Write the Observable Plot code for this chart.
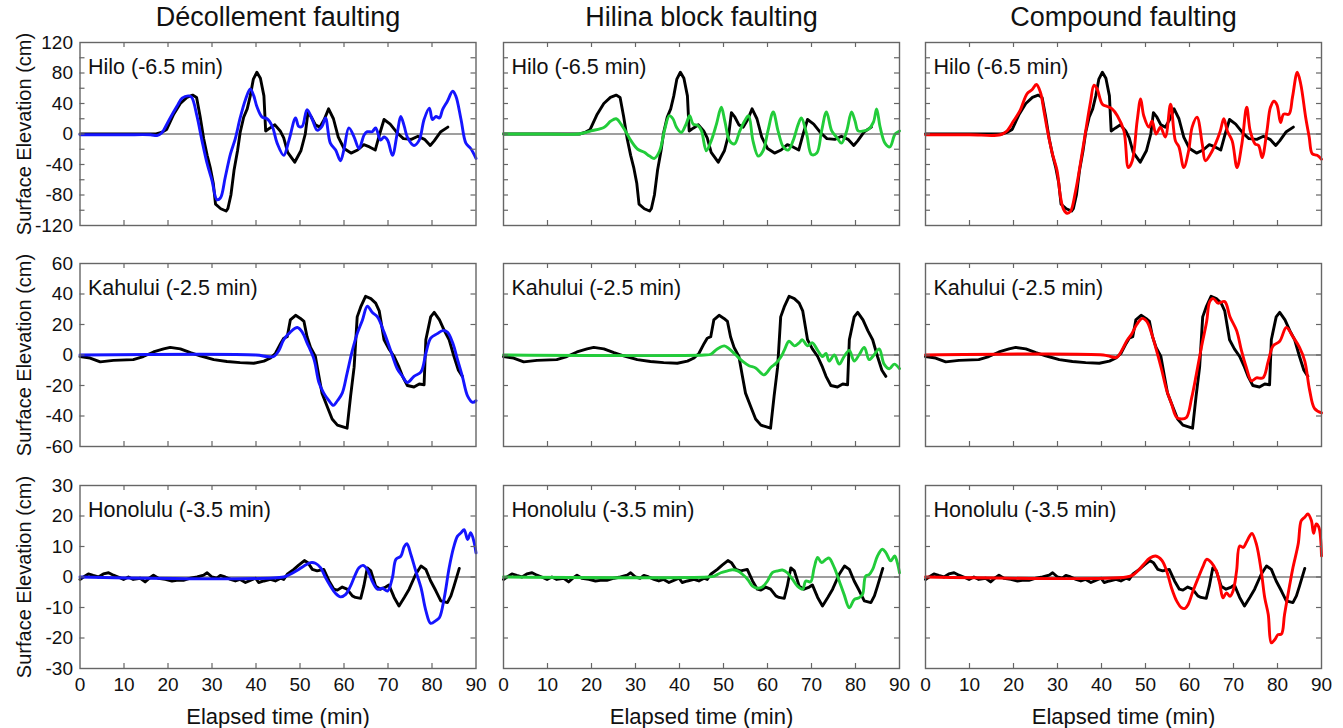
<!DOCTYPE html>
<html>
<head>
<meta charset="utf-8">
<script src="https://cdn.jsdelivr.net/npm/d3@7"></script>
<script src="https://cdn.jsdelivr.net/npm/@observablehq/plot@0.6"></script>
<style>
  body { margin: 0; background: #fff; }
  #fig { position: relative; width: 1343px; height: 728px; overflow: hidden; font-family: Arial, "Liberation Sans", sans-serif; }
  #fig svg { position: absolute; overflow: visible; }
</style>
</head>
<body>
<div id="fig"></div>
<script>
// ---------------- data ----------------
const columnTitles = ["Décollement faulting", "Hilina block faulting", "Compound faulting"];
const stationLabels = ["Hilo (-6.5 min)", "Kahului (-2.5 min)", "Honolulu (-3.5 min)"];
const modelColors = ["#1515ff", "#22cc3a", "#ff0000"];
const xTickValues = [0, 10, 20, 30, 40, 50, 60, 70, 80, 90];
const yDomains = [[-120, 120], [-60, 60], [-30, 30]];
const yTickLabels = [[-120, -80, -40, 0, 40, 80, 120], [-60, -40, -20, 0, 20, 40, 60], [-30, -20, -10, 0, 10, 20, 30]];
const yTickMarks = [[-100, -80, -60, -40, -20, 0, 20, 40, 60, 80, 100], [-40, -20, 0, 20, 40], [-20, -10, 0, 10, 20]];

// observed (black), [minutes, cm]
const hiloObs = [[0,0],[5,0],[10,0],[15,0],[17.3,0],[18.5,2],[19.7,6],[21.3,26],[22.8,40],[24.3,48],[25.6,51],[26.5,48],[27.3,23],[28.1,-6],[28.9,-28],[29.6,-44],[30.3,-65],[30.8,-92],[32.0,-98],[33.2,-101],[33.6,-98],[34.3,-80],[35.0,-48],[35.8,-22],[36.4,2],[37.2,22],[38.0,33],[38.7,50],[39.4,72],[40.2,81],[41.0,73],[41.8,50],[42.2,4],[43.2,8],[44.3,12],[45.5,4],[46.3,-5],[47.2,-24],[48.8,-37],[50.2,-22],[51.2,0],[51.8,28],[52.6,22],[53.5,12],[54.5,9],[55.5,19],[56.5,33],[57.6,20],[58.7,-4],[60.0,-19],[61.6,-25],[63.1,-21],[64.5,-14],[65.8,-17],[67.1,-21],[68.0,-2],[69.1,19],[70.5,13],[72.0,2],[73.5,-6],[75.3,-7],[76.8,-3],[78.3,-7],[79.6,-15],[80.5,-9],[82.0,3],[83.6,9]];
const kahuluiObs = [[0,-1],[2.3,-2],[4.6,-4.5],[7.6,-3.5],[12.1,-3],[14.4,-1],[16.7,2],[19.0,4],[20.5,5],[22.8,4],[25.1,1.5],[27.3,-0.5],[30.4,-3],[33.4,-4.3],[36.4,-5],[39.5,-5.4],[41.8,-4],[43.3,-2],[44.4,1],[45.6,7.6],[46.3,11],[47.1,12],[47.8,23],[49.0,26],[50.1,24],[50.9,22],[51.6,12],[52.4,5],[53.5,-1],[54.3,-14],[55.0,-25],[56.2,-34],[57.3,-42],[58.5,-46],[59.6,-47],[60.7,-48],[61.5,-27],[62.3,-8],[63.0,25],[63.8,31.5],[64.9,38.5],[66.1,37],[67.2,34],[68.0,29],[69.1,10],[70.2,4],[71.4,-1],[72.5,-8],[73.3,-14],[74.4,-20],[75.9,-21],[77.1,-19],[78.2,-19.5],[78.6,10],[79.7,25],[80.5,28],[81.7,23],[82.8,16],[83.9,10],[85.0,-1],[86.0,-10],[86.9,-14]];
const honoluluObs = [[0,-0.8],[0.8,0],[1.9,1],[3.0,0.5],[4.2,0],[5.3,1],[6.5,1.4],[7.6,0.6],[8.7,0],[9.9,-0.8],[11.0,0],[12.1,-0.8],[13.7,-0.4],[14.8,-1.6],[15.9,-0.2],[16.7,0.6],[17.8,-0.4],[19.4,-0.8],[20.9,-1.3],[22.0,-1.1],[23.5,-1.1],[25.1,-0.4],[26.6,0],[28.1,0.6],[28.9,1.4],[30.0,0],[31.1,-0.4],[31.9,0.5],[33.0,0],[34.2,-0.8],[35.3,-1.3],[36.4,-0.8],[37.6,-1.8],[38.7,-1.1],[39.9,-0.4],[40.6,-1.8],[41.8,-1.3],[43.3,-0.8],[44.4,-1.3],[45.6,-0.4],[46.3,-0.8],[47.1,0.9],[48.6,2.5],[49.7,3.9],[51.0,5.4],[51.8,4.7],[52.8,2.5],[53.9,2],[55.4,2.5],[56.6,-1.3],[57.7,-4],[58.5,-4.3],[59.6,-3.3],[60.7,-4],[61.9,-6.2],[62.6,-6.7],[63.8,-7],[64.5,-3],[65.3,3],[66.1,2],[67.2,-3],[68.3,-4],[69.5,-3.3],[70.2,-2.6],[71.4,-6.7],[72.5,-9.5],[73.7,-6.7],[74.8,-4],[76.3,0.9],[77.5,3.6],[78.6,2.5],[79.7,-1.3],[80.9,-4.6],[82.0,-7.8],[83.5,-8.4],[84.3,-6.2],[85.0,-3],[86.2,2.8]];

// décollement model (blue)
const hiloDec = [[0,-1],[10,-1],[16,-1],[17.5,-2],[18.5,1],[19.0,5],[20.5,21],[22.0,36],[23.2,47],[24.7,50],[25.4,48],[26.6,23],[27.7,-8],[28.9,-39],[30.0,-61],[31.1,-86],[31.9,-84],[33.0,-57],[34.2,-26],[35.3,-6],[36.4,21],[37.6,45],[38.7,59],[39.5,50],[40.2,36],[41.4,22],[42.5,20],[43.7,10],[44.8,-12],[46.3,-28],[47.5,-8],[49.0,21],[49.7,10],[50.5,10],[51.6,32],[52.8,19],[53.9,5],[55.0,10],[55.8,21],[56.9,-12],[58.1,-21],[59.2,-35],[60.0,-20],[61.1,8],[62.3,-4],[63.4,-19],[64.6,-1],[65.3,3],[66.4,3],[67.2,8],[68.3,-8],[69.1,-4],[69.9,-8],[71.0,-28],[72.1,1],[72.9,23],[73.7,10],[74.4,-4],[75.9,-15],[77.1,-8],[78.2,19],[79.4,34],[80.1,19],[80.9,23],[81.7,21],[82.4,32],[83.5,43],[84.7,56],[85.4,50],[86.6,19],[87.7,-12],[88.8,-19],[90,-32]];
const kahuluiDec = [[0,0],[40,0],[42.5,-1],[44.0,-1],[45.2,3],[46.3,10],[47.8,15],[49.4,18],[50.5,15],[51.6,8],[53.2,-3],[54.3,-18],[55.4,-25],[56.6,-30],[57.6,-33],[58.5,-30],[59.6,-25],[60.7,-12],[61.9,3],[63.0,14],[64.2,23],[65.3,32],[66.4,28],[67.6,25],[69.1,15],[70.6,3],[72.1,-9],[73.3,-14],[74.4,-18],[75.9,-14],[77.5,-11],[78.6,1],[79.7,11],[81.2,14],[82.4,16],[83.5,15],[84.7,8],[85.8,-3],[86.9,-14],[88.1,-27],[89.2,-31],[90,-30]];
const honoluluDec = [[0,0],[46.3,0],[47.8,0.9],[49.4,2.2],[50.9,3.6],[52.4,4.7],[53.5,4.5],[54.7,3],[55.8,-0.2],[56.9,-2.9],[58.1,-5.4],[59.2,-6.5],[60.4,-5.7],[61.5,-2.9],[62.6,0.9],[63.4,3],[64.3,3.8],[65.3,2.5],[66.4,-1.3],[67.6,-4],[68.7,-3.7],[69.9,-4.6],[71.0,-0.2],[71.8,5.8],[72.9,6.8],[73.7,10],[74.3,10.9],[75.2,7.4],[76.3,2],[77.5,-3.5],[78.6,-11],[79.7,-15.2],[80.9,-14.3],[81.7,-13.3],[82.8,-6.7],[83.9,3],[84.9,9.6],[85.8,13.4],[86.6,14.5],[87.3,15.5],[88.1,12.3],[88.8,14.5],[89.6,11.2],[90,7.9]];

// Hilina block model (green)
const hiloHil = [[0,0],[10,0],[17,0],[19.9,4],[22.9,9],[24.4,17],[25.6,20],[26.7,13],[27.9,2],[29.0,-9],[30.5,-20],[32.0,-24],[33.2,-29],[34.3,-32],[35.5,-22],[36.6,5],[37.7,24],[38.5,20],[39.3,9],[40.4,2],[41.5,13],[42.3,24],[43.1,13],[44.2,11],[45.0,4],[46.1,-22],[47.2,-9],[48.4,13],[49.5,35],[50.3,17],[51.4,-9],[52.5,-13],[53.7,4],[54.8,17],[55.7,24],[56.7,-9],[57.9,-29],[59.0,-22],[60.1,4],[61.3,29],[62.4,4],[63.6,-17],[64.7,-21],[65.8,-9],[67.0,13],[67.7,21],[68.9,0],[70.0,-27],[71.2,-25],[72.3,4],[73.4,29],[74.6,4],[75.7,-4],[76.8,-12],[78.0,4],[79.1,29],[79.9,17],[80.6,4],[81.8,4],[82.9,6],[84.1,16],[84.8,33],[85.6,9],[86.7,-12],[87.8,-17],[89.0,0],[90,4]];
const kahuluiHil = [[0,0],[45.6,0],[47.1,0.5],[48.6,4],[50.2,6],[51.3,4],[52.8,0],[54.3,-4],[55.8,-7],[57.3,-8.5],[59.2,-13],[60.8,-8],[61.9,-5.5],[63.0,-1.5],[63.8,3],[64.9,9],[66.1,6],[67.2,8],[67.9,10],[69.1,6],[70.2,8],[71.4,3],[72.5,-1],[73.3,1],[74.0,-4],[75.2,0],[76.3,-6],[77.4,-1],[78.6,3],[79.7,-4],[80.8,0],[82.0,5],[83.1,-3],[84.2,0],[85.4,4],[86.5,-6],[87.7,-9],[88.8,-6],[90,-9]];
const honoluluHil = [[0,0],[46.4,0],[47.9,0.3],[49.4,1.4],[50.9,2],[52.0,2.4],[53.2,2],[54.3,0.9],[55.5,-0.8],[56.6,-3],[57.7,-3.7],[58.9,-3.2],[60.0,-1.3],[61.1,1.4],[62.3,2],[63.4,2.3],[64.5,1.4],[65.7,-0.8],[66.8,-3],[68.0,-4],[68.7,-1.3],[69.8,-1.6],[70.6,3],[71.4,6.4],[72.3,4.7],[73.3,5.8],[74.0,6.2],[75.2,3],[76.3,-1.3],[77.4,-5.7],[78.6,-10.1],[79.7,-7.4],[80.8,-6.8],[81.6,-5.7],[82.3,0.3],[83.1,0.8],[83.9,2.5],[85.0,6.9],[86.1,9.1],[86.9,8],[88.0,5.3],[88.9,6.9],[89.5,4.7],[90,1.4]];

// compound model (red)
const hiloComp = [[0,-1],[10,-1],[17,-1],[18.5,4],[20.0,17],[21.5,31],[23.1,53],[24.2,58],[25.2,65],[26.1,55],[26.9,31],[27.7,5],[28.8,-25],[29.9,-48],[30.7,-83],[31.4,-99],[32.2,-104],[33.0,-101],[34.1,-75],[35.2,-39],[36.3,0],[37.5,42],[38.3,64],[39.0,59],[40.2,39],[41.3,36],[42.4,33],[43.6,24],[45.1,4],[46.1,-44],[47.0,-35],[48.1,17],[48.9,46],[49.6,24],[50.8,9],[51.5,17],[52.4,0],[53.4,9],[54.5,-4],[55.7,39],[56.8,-9],[57.6,-17],[58.7,-44],[59.8,-22],[60.6,9],[61.7,22],[62.9,-13],[63.6,-35],[64.8,-26],[65.9,-13],[67.0,4],[67.8,20],[68.6,4],[69.7,-9],[70.8,-44],[71.9,-13],[73.0,35],[73.8,4],[74.9,-13],[75.7,-15],[76.5,-31],[77.6,4],[78.4,35],[79.2,43],[79.9,38],[80.7,15],[81.4,26],[82.6,26],[83.4,48],[84.5,81],[85.3,65],[86.4,22],[87.2,-4],[87.9,-26],[89.0,-28],[90,-33]];
const kahuluiComp = [[0,0],[40.4,0],[42,-1],[43.5,-1.5],[44.6,3],[45.7,9],[46.9,14],[48.0,20],[49.3,24],[50.3,22],[51.4,14],[52.5,3],[53.7,-10],[54.8,-23],[55.9,-32],[57.1,-41],[58.2,-42],[59.3,-41],[60.5,-28],[61.6,-12],[62.7,5],[63.9,22],[64.6,35],[65.4,37],[66.5,34],[68.0,35],[69.2,25],[70.7,16],[71.8,3],[72.9,-8],[74.1,-17],[75.2,-15],[76.7,-15],[77.9,-4],[79.0,6],[80.5,9],[82.0,18],[83.5,12],[85.0,5],[86.2,-4],[87.3,-23],[88.4,-35],[90,-38]];
const honoluluComp = [[0,0],[45.7,0],[47.2,0.7],[48.4,2.2],[49.5,4],[51.0,6.2],[52.3,6.9],[53.7,5.5],[54.8,2],[55.9,-3.5],[57.1,-7.9],[58.2,-10.1],[59.0,-10.3],[59.7,-9],[60.8,-4.6],[62.0,-0.2],[63.1,3.6],[63.9,5.8],[65.0,4.7],[66.1,2],[66.9,-2.4],[67.6,-6.8],[68.4,-5.2],[69.2,-6.3],[69.9,-4.6],[70.7,2],[71.4,10.2],[72.2,9.7],[72.9,11.3],[73.7,13.5],[74.2,14.3],[75.2,10.8],[76.3,2],[77.1,-6.8],[77.9,-12.3],[78.6,-21.6],[79.4,-20.5],[80.1,-18.9],[80.9,-18.7],[81.6,-12.3],[82.8,-2.4],[83.5,3],[84.7,10.8],[85.4,18.5],[86.2,19.6],[86.9,20.7],[87.7,18.5],[88.2,14.3],[88.8,17.4],[89.4,16.3],[90,6.9]];

const observed = [hiloObs, kahuluiObs, honoluluObs];
const models = [
  [hiloDec, kahuluiDec, honoluluDec],
  [hiloHil, kahuluiHil, honoluluHil],
  [hiloComp, kahuluiComp, honoluluComp]
];

// ---------------- layout ----------------
const fig = document.getElementById("fig");
const panelW = 396, panelH = 183;
const panelLeft = [79.5, 503, 925];
const panelTop = [42, 263, 485];
const svgLeft = [0, 478, 900];
const svgTop = [0, 228, 450];
const font = "Arial, 'Liberation Sans', sans-serif";
const frameColor = "#666666";

function panel(row, col) {
  const ml = panelLeft[col] - svgLeft[col];
  const mt = panelTop[row] - svgTop[row];
  const mr = 14;
  const mb = row === 2 ? 728 - panelTop[row] - panelH : 10;
  const innerX = xTickValues.slice(1, -1);
  const marks = [
    Plot.ruleY([0], {stroke: "#7f7f7f", strokeWidth: 1.6}),
    Plot.line(observed[row], {x: d => d[0], y: d => d[1], stroke: "#000", strokeWidth: 2.9, curve: "linear", strokeLinejoin: "round"}),
    Plot.line(models[col][row], {x: d => d[0], y: d => d[1], stroke: modelColors[col], strokeWidth: 2.9, curve: "catmull-rom"}),
    Plot.frame({stroke: frameColor, strokeWidth: 1.4}),
    Plot.tickX(innerX, {x: d => d, stroke: frameColor, strokeWidth: 1.2, insetBottom: panelH - 5}),
    Plot.tickX(innerX, {x: d => d, stroke: frameColor, strokeWidth: 1.2, insetTop: panelH - 5}),
    Plot.tickY(yTickMarks[row], {y: d => d, stroke: frameColor, strokeWidth: 1.2, insetRight: panelW - 5}),
    Plot.tickY(yTickMarks[row], {y: d => d, stroke: frameColor, strokeWidth: 1.2, insetLeft: panelW - 5}),
    Plot.text([stationLabels[row]], {frameAnchor: "top-left", dx: 8, dy: 25, lineAnchor: "middle", textAnchor: "start", fontSize: 21.5, fill: "#111"})
  ];
  if (row === 0) {
    marks.push(Plot.text([columnTitles[col]], {frameAnchor: "top", dy: -25, lineAnchor: "middle", fontSize: 27, fill: "#111"}));
  }
  if (col === 0) {
    marks.push(Plot.text(["Surface Elevation (cm)"], {frameAnchor: "left", dx: -55, rotate: -90, lineAnchor: "middle", textAnchor: "middle", fontSize: 20, fill: "#111"}));
  }
  if (row === 2) {
    marks.push(Plot.text(["Elapsed time (min)"], {frameAnchor: "bottom", dy: 48, lineAnchor: "middle", textAnchor: "middle", fontSize: 22, fill: "#111"}));
  }
  const svg = Plot.plot({
    width: ml + panelW + mr,
    height: mt + panelH + mb,
    marginLeft: ml, marginRight: mr, marginTop: mt, marginBottom: mb,
    style: {fontSize: "19px", fontFamily: font, color: "#111", background: "transparent", overflow: "visible"},
    x: {domain: [0, 90], ticks: xTickValues, tickFormat: d => String(d), axis: row === 2 ? "bottom" : null, tickSize: 0, tickPadding: 9, label: null},
    y: {domain: yDomains[row], ticks: yTickLabels[row], tickFormat: d => String(d), axis: col === 0 ? "left" : null, tickSize: 0, tickPadding: 7, label: null},
    marks
  });
  svg.style.left = svgLeft[col] + "px";
  svg.style.top = svgTop[row] + "px";
  fig.appendChild(svg);
}

for (let r = 0; r < 3; r++) for (let c = 0; c < 3; c++) panel(r, c);
</script>
</body>
</html>
